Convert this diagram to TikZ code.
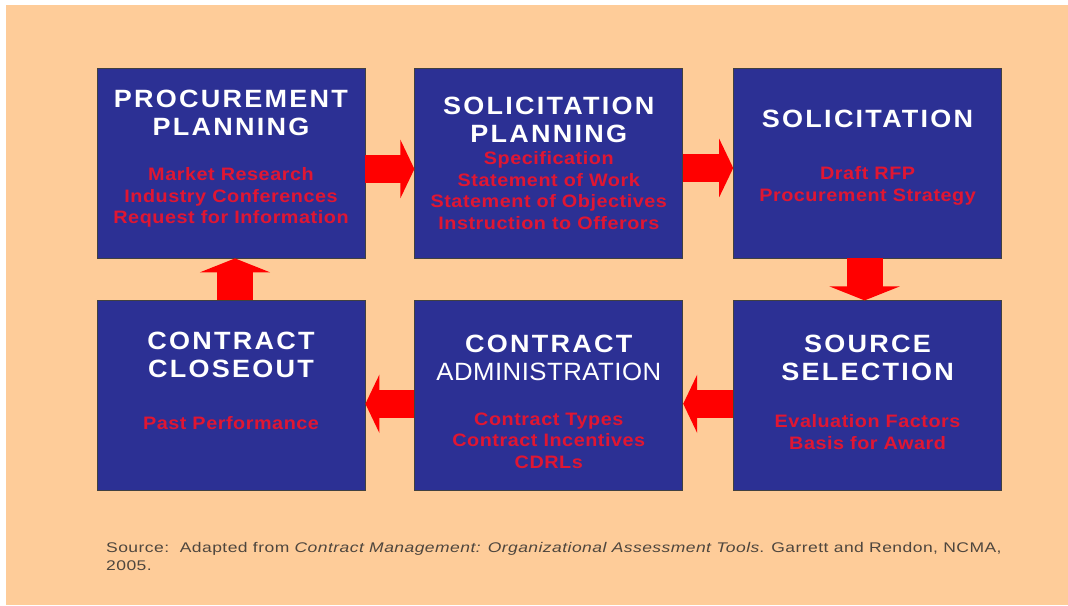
\documentclass[tikz,border=0pt]{standalone}
\usepackage{fontspec}
\setmainfont{Liberation Sans}
\newfontfamily\headfont[LetterSpace=9, FakeStretch=1.08]{Liberation Sans}
\newfontfamily\plainfont[LetterSpace=2, FakeStretch=1.03]{Liberation Sans}
\newfontfamily\itemfont[LetterSpace=3, FakeStretch=1.1]{Liberation Sans}
\newfontfamily\notefont[LetterSpace=3.2, FakeStretch=1.25]{Liberation Sans}
\usetikzlibrary{positioning, arrows.meta}

\definecolor{pagebg}{RGB}{254,204,153}
\definecolor{stagebg}{RGB}{44,48,148}
\definecolor{itemred}{RGB}{224,22,50}
\definecolor{notegray}{RGB}{78,70,62}

\begin{document}
\begin{tikzpicture}[
    x=1pt, y=1pt,
    stage/.style={rectangle, draw=black!75, line width=0.8pt, fill=stagebg,
        minimum width=268pt, minimum height=190pt, inner sep=0pt},
    stagetitle/.style={text=white, align=center, inner sep=0pt,
        font=\headfont\bfseries\fontsize{25}{28.5}\selectfont},
    stageitems/.style={text=itemred, align=center, inner sep=0pt,
        font=\itemfont\bfseries\fontsize{18}{21.5}\selectfont},
    hflow/.style={line width=28pt, red, -{Triangle[length=14pt, width=58pt]}},
    vflow/.style={line width=36pt, red, -{Triangle[length=14pt, width=70pt]}}
]

    \useasboundingbox (0,0) rectangle (1068,605);
    \fill[pagebg] (6,0) rectangle (1068,600);

    \node[stage] (procplan) at (231,442) {};
    \node[stage, right=49pt of procplan] (solplan) {};
    \node[stage, right=50pt of solplan] (solicit) {};
    \node[stage, below=42pt of solicit] (source) {};
    \node[stage, left=50pt of source] (admin) {};
    \node[stage, left=49pt of admin] (closeout) {};

    \node[stagetitle, below=22pt of procplan.north] (procplantitle) {PROCUREMENT\\PLANNING};
    \node[stageitems, below=100pt of procplan.north] (procplanitems) {Market Research\\Industry Conferences\\Request for Information};

    \node[stagetitle, below=29pt of solplan.north] (solplantitle) {SOLICITATION\\PLANNING};
    \node[stageitems, below=84pt of solplan.north] (solplanitems) {Specification\\Statement of Work\\Statement of Objectives\\Instruction to Offerors};

    \node[stagetitle, below=42pt of solicit.north] (solicittitle) {SOLICITATION};
    \node[stageitems, below=99pt of solicit.north] (solicititems) {Draft RFP\\Procurement Strategy};

    \node[stagetitle, below=34pt of source.north] (sourcetitle) {SOURCE\\SELECTION};
    \node[stageitems, below=114pt of source.north] (sourceitems) {Evaluation Factors\\Basis for Award};

    \node[stagetitle, below=34pt of admin.north] (admintitle) {CONTRACT\\{\plainfont\mdseries ADMINISTRATION}};
    \node[stageitems, below=112pt of admin.north] (adminitems) {Contract Types\\Contract Incentives\\CDRLs};

    \node[stagetitle, below=31pt of closeout.north] (closeouttitle) {CONTRACT\\CLOSEOUT};
    \node[stageitems, below=116pt of closeout.north] (closeoutitems) {Past Performance};

    \draw[hflow] ([yshift=-6pt]procplan.east) -- ([yshift=-6pt]solplan.west);
    \draw[hflow] ([yshift=-5pt]solplan.east) -- ([yshift=-5pt]solicit.west);
    \draw[vflow] ([xshift=-3pt]solicit.south) -- ([xshift=-3pt]source.north);
    \draw[hflow] ([yshift=-8pt]source.west) -- ([yshift=-8pt]admin.east);
    \draw[hflow] ([yshift=-8pt]admin.west) -- ([yshift=-8pt]closeout.east);
    \draw[vflow] ([xshift=4pt]closeout.north) -- ([xshift=4pt]procplan.south);

    \node[anchor=north west, align=left, inner sep=0pt, text=notegray,
        font=\notefont\fontsize{14}{18}\selectfont] (note) at (106,63)
        {Source:\ \ Adapted from \textit{Contract Management: Organizational Assessment Tools}. Garrett and Rendon, NCMA,\\2005.};

\end{tikzpicture}
\end{document}
